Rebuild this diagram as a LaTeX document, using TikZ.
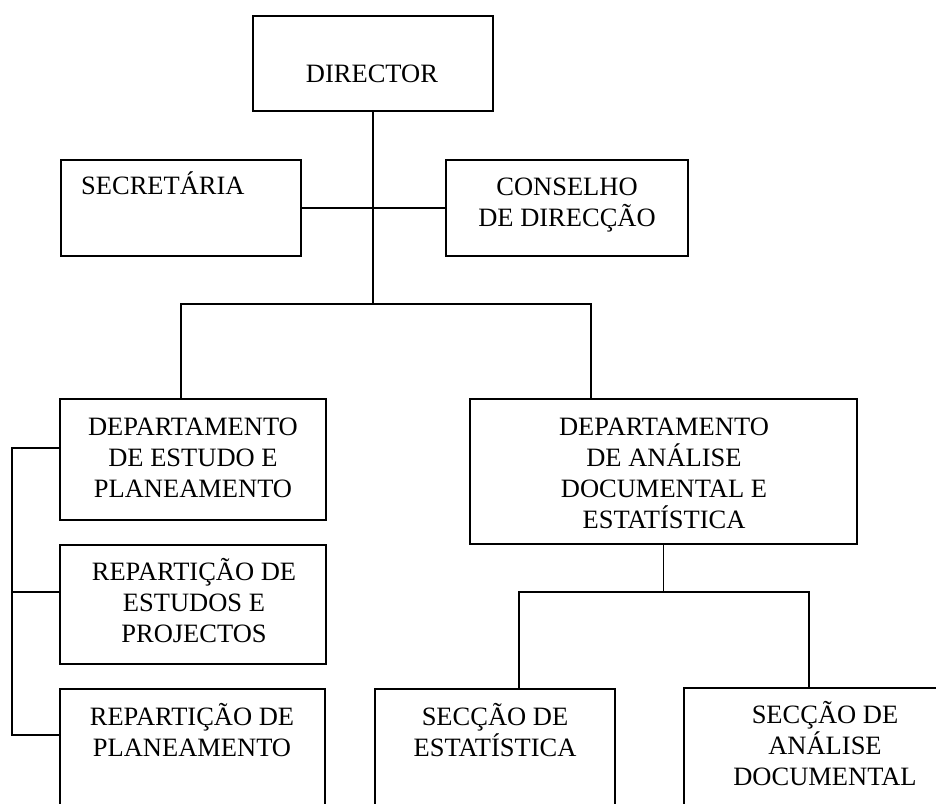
\documentclass[tikz,border=0pt]{standalone}
\usepackage{fontspec}
\setmainfont{Liberation Serif}
\begin{document}
\begin{tikzpicture}[x=1pt,y=-1pt,
  box/.style={draw,line width=2.2pt,inner sep=0pt,outer sep=0pt},
  lbl/.style={align=center,inner sep=0pt,anchor=base,font=\fontsize{26.5}{31}\selectfont},
  conn/.style={line width=1.6pt}]
\useasboundingbox (0,0) rectangle (936,803);
\clip (0,0) rectangle (936,803);
% boxes
\node[box,minimum width=240pt,minimum height=95pt] (director) at (373,63.5) {};
\node[box,minimum width=240pt,minimum height=96pt] (secretaria) at (181,208) {};
\node[box,minimum width=242pt,minimum height=96pt] (conselho) at (567,208) {};
\node[box,minimum width=266pt,minimum height=121pt] (depest) at (193,459.5) {};
\node[box,minimum width=387pt,minimum height=145pt] (depan) at (663.5,471.5) {};
\node[box,minimum width=266pt,minimum height=119pt] (repest) at (193,604.5) {};
\node[box,minimum width=265pt,minimum height=161pt] (repplan) at (192.5,769.5) {};
\node[box,minimum width=240pt,minimum height=161pt] (secest) at (495,769.5) {};
\node[box,minimum width=282pt,minimum height=162pt] (secan) at (825,769) {};
% labels (anchor = baseline of last line)
\node[lbl] (tdirector) at (372,82) {DIRECTOR};
\node[lbl,anchor=base west] (tsecretaria) at (81,194) {SECRETÁRIA};
\node[lbl] (tconselho) at (567,226) {CONSELHO\\DE DIRECÇÃO};
\node[lbl] (tdepest) at (193,497) {DEPARTAMENTO\\DE ESTUDO E\\PLANEAMENTO};
\node[lbl] (tdepan) at (664,528) {DEPARTAMENTO\\DE ANÁLISE\\DOCUMENTAL E\\ESTATÍSTICA};
\node[lbl] (trepest) at (194,642) {REPARTIÇÃO DE\\ESTUDOS E\\PROJECTOS};
\node[lbl] (trepplan) at (192,756) {REPARTIÇÃO DE\\PLANEAMENTO};
\node[lbl] (tsecest) at (495,756) {SECÇÃO DE\\ESTATÍSTICA};
\node[lbl] (tsecan) at (825,785) {SECÇÃO DE\\ANÁLISE\\DOCUMENTAL};
% junction coordinates
\coordinate (j1) at (373,304);
\coordinate (bl) at (181,304);
\coordinate (br) at (591,304);
\coordinate (kt) at (12,448);
\coordinate (km) at (12,592);
\coordinate (kb) at (12,735);
\coordinate (m) at (663.5,592);
\coordinate (sl) at (519,592);
\coordinate (sr) at (809,592);
% connectors
\draw[conn] (director.south) -- (j1);
\draw[conn] (secretaria.east) -- (conselho.west);
\draw[conn] (bl |- depest.north) -- (bl) -- (br) -- (br |- depan.north);
\draw[conn] (kt -| depest.west) -- (kt) -- (kb) -- (kb -| repplan.west);
\draw[conn] (km) -- (km -| repest.west);
\draw[conn] (depan.south) -- (m);
\draw[conn] (sl |- secest.north) -- (sl) -- (sr) -- (sr |- secan.north);
\end{tikzpicture}
\end{document}
